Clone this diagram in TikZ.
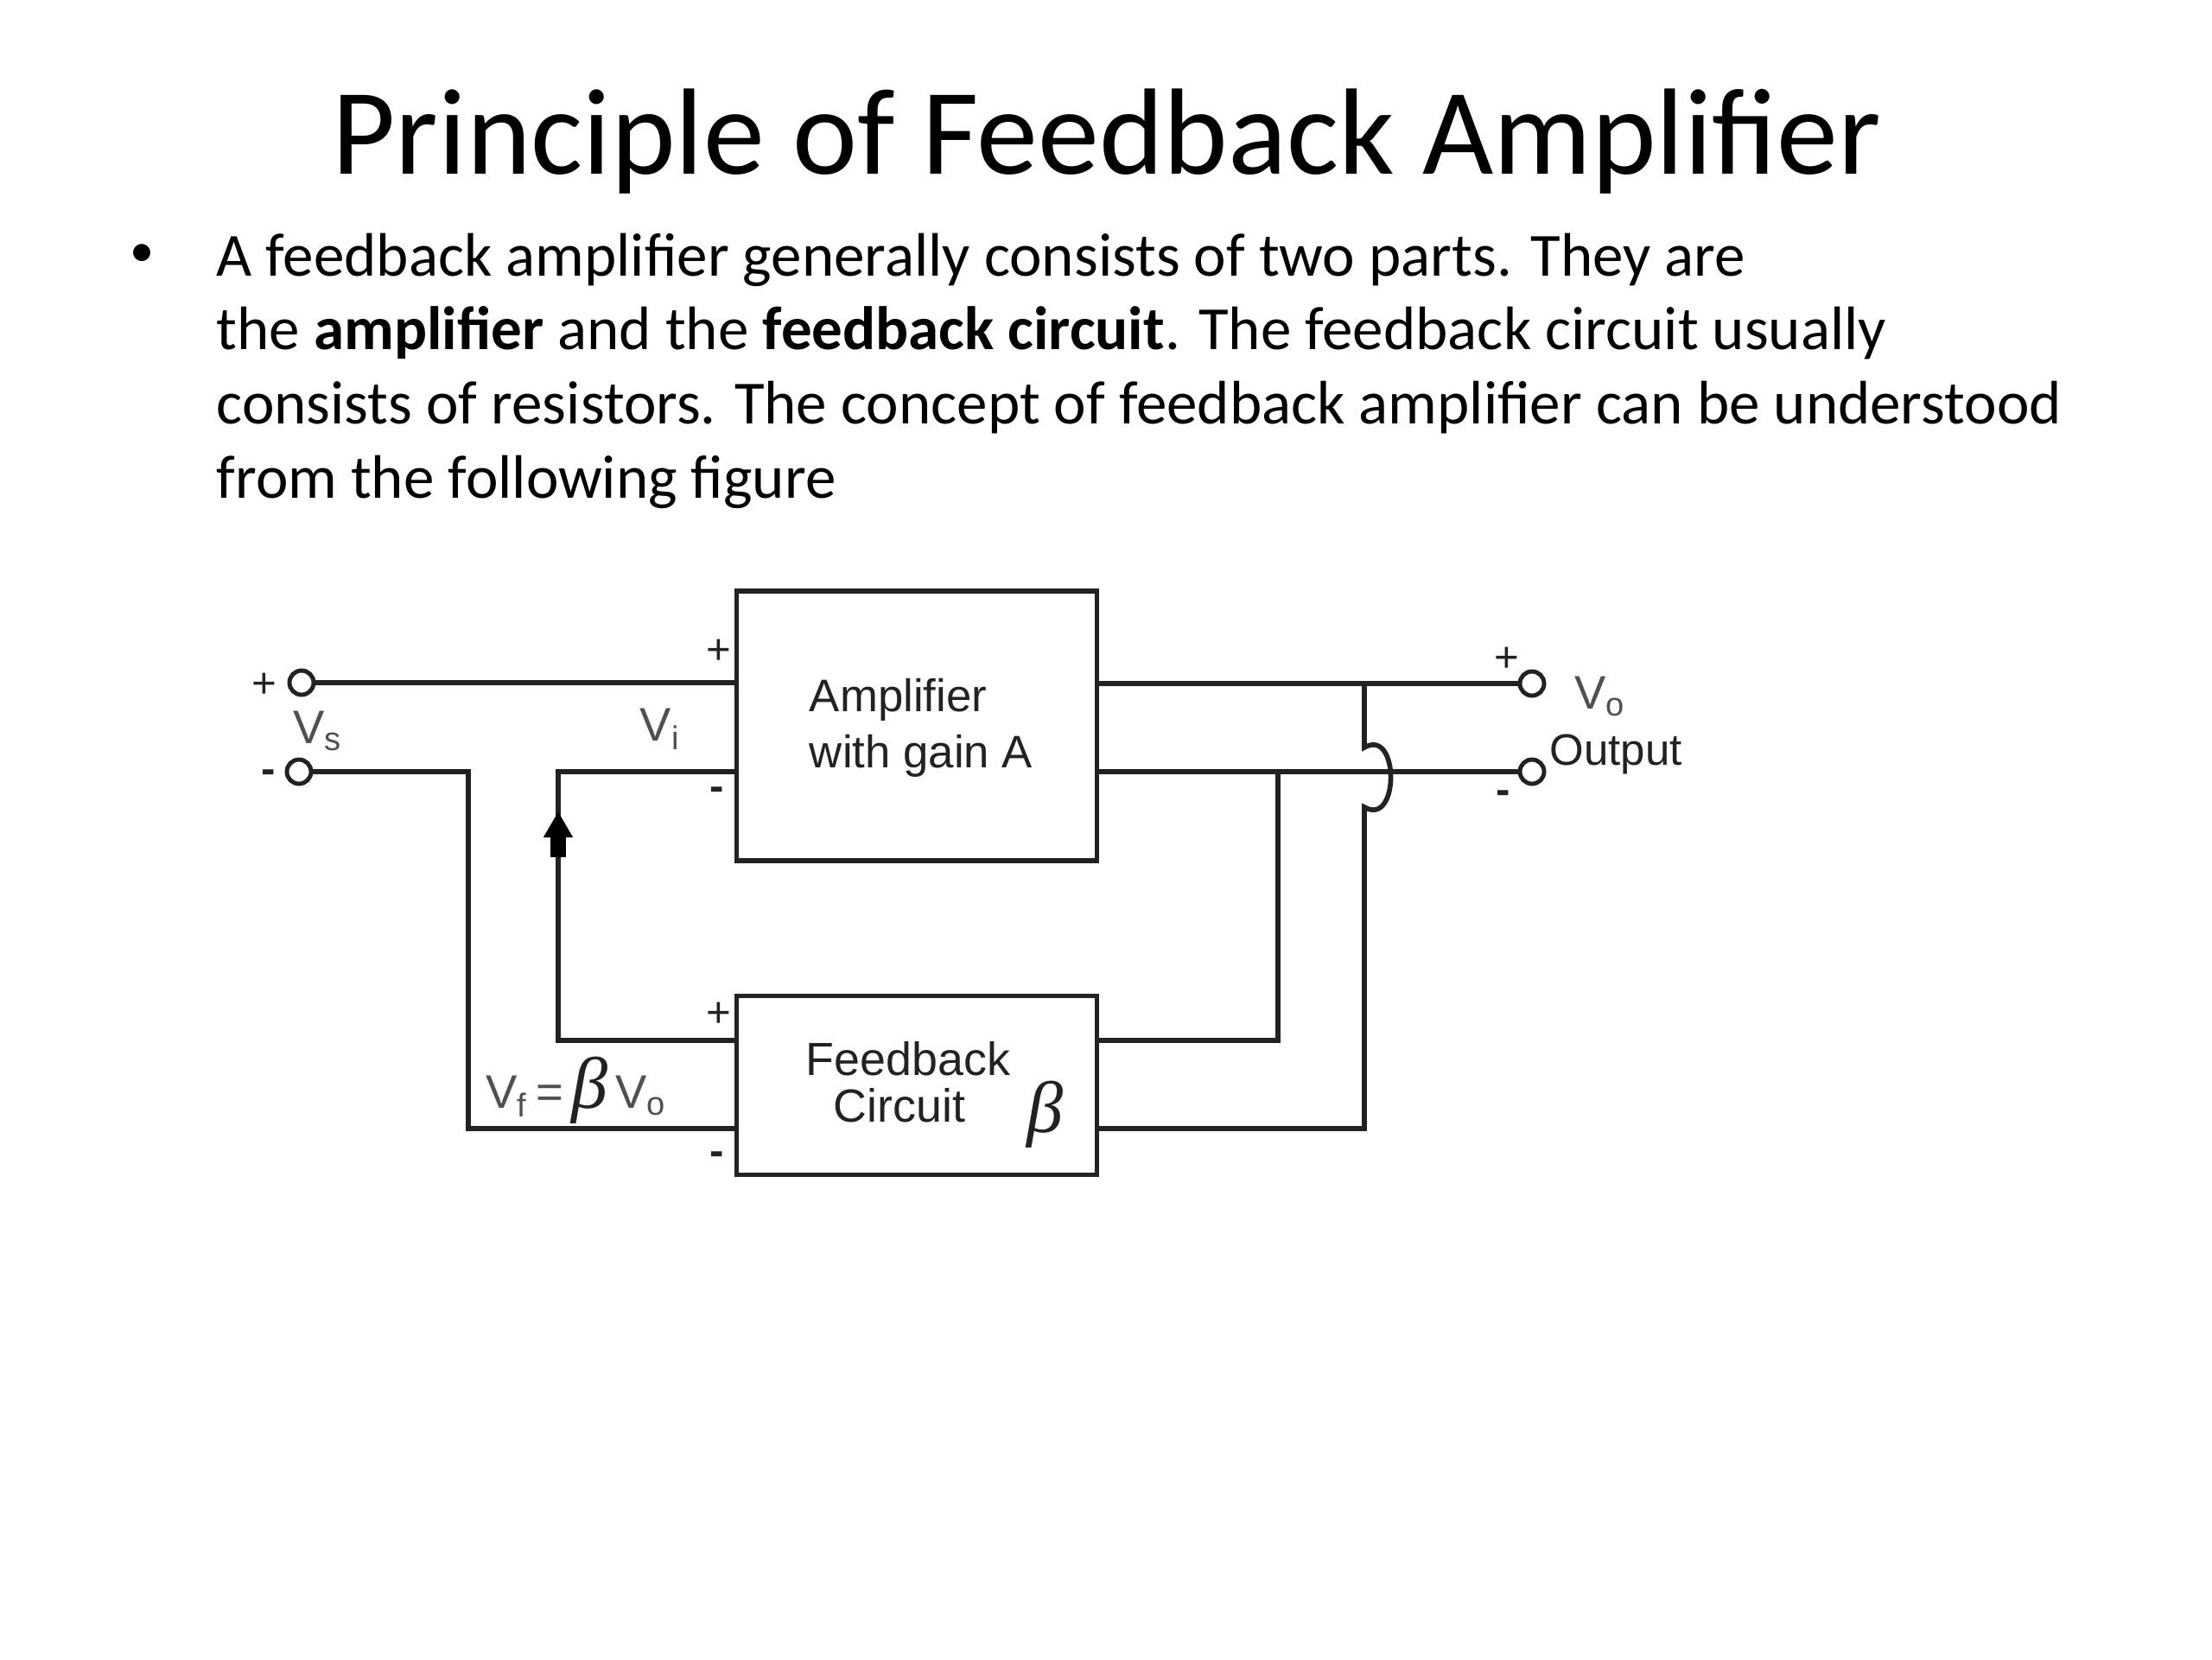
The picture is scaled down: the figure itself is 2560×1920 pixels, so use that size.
\documentclass[tikz,border=0pt]{standalone}
\usepackage{amsmath}
\usepackage{xcolor}
\usepackage{fontspec}
\setmainfont{Carlito}
\newfontfamily\figfont{Liberation Sans}
\newfontfamily\betafont{Liberation Serif}
\usepackage{tikz}
\usetikzlibrary{arrows.meta, positioning, calc}

\definecolor{wirecol}{HTML}{222222}
\definecolor{labelcol}{HTML}{505050}

\begin{document}
\begin{tikzpicture}[
  x=0.01cm, y=-0.01cm,
  block/.style={draw=wirecol, rectangle, line width=1.6pt, minimum width=4.17cm, align=left, inner sep=0pt, font=\figfont\fontsize{15}{18.5}\selectfont},
  terminal/.style={draw=wirecol, circle, line width=1.4pt, minimum size=0.28cm, inner sep=0pt},
  wire/.style={draw=wirecol, line width=1.6pt},
  sign/.style={inner sep=0pt, text=wirecol, font=\figfont\fontsize{14}{14}\selectfont},
  volt/.style={inner sep=0pt, text=labelcol, font=\figfont\fontsize{15.5}{15.5}\selectfont},
  arrow/.style={-{Triangle[length=3mm, width=3.2mm]}, draw=black, fill=black, line width=5pt}
]
\useasboundingbox (0,0) rectangle (2560,1920);

% slide text
\node[inner sep=0pt, font=\fontsize{40.4}{40.4}\selectfont] (title) at (1281,164) {Principle of Feedback Amplifier};
\node[anchor=north west, inner sep=0pt, align=left, font=\fontsize{20.2}{24.4}\selectfont] (body) at (250,269) {%
  A feedback amplifier generally consists of two parts. They are\\
  the \textbf{amplifier} and the \textbf{feedback circuit}. The feedback circuit usually\\
  consists of resistors. The concept of feedback amplifier can be understood\\
  from the following figure};
\node[inner sep=0pt, font=\fontsize{16}{16}\selectfont] (bullet) at (165,296) {\textbullet};

% blocks
\node[block, minimum height=3.12cm] (amp) at (1061,840) {};
\node[inner sep=0pt, align=left, font=\figfont\fontsize{15}{18.5}\selectfont, text=wirecol] (amptext) at (1066,842) {Amplifier\\with gain A};
\node[block, minimum height=2.07cm] (fb) at (1061,1256) {};
\node[align=center, inner sep=0pt, text=wirecol, font=\figfont\fontsize{15.3}{15.5}\selectfont] (fbtext) at (1051,1252) {Feedback\\Circuit\hspace*{0.2cm}};
\node[inner sep=0pt, text=wirecol, font=\betafont\itshape\fontsize{24}{24}\selectfont] (fbbeta) at (1210,1290) {β};

% terminals
\node[terminal] (vsp) at (349,790) {};
\node[terminal] (vsm) at (346,893) {};
\node[terminal] (vop) at (1773,791) {};
\node[terminal] (vom) at (1773,893) {};

% corners
\coordinate (fbin) at (852,1204);
\coordinate (fbgnd) at (852,1306);
\coordinate (fbouta) at (1270,1204);
\coordinate (fboutb) at (1270,1306);
\coordinate (hopin) at (1579,865);
\coordinate (hopout) at (1579,934);

% wires
\draw[wire] (vsp) -- (vsp -| amp.west);
\draw[wire] (vsm) -- (542,893) |- (fbgnd);
\draw[wire] (vom -| amp.west) -- (646,893) |- (fbin);
\draw[wire] (vop -| amp.east) -- (vop);
\draw[wire] (vom -| amp.east) -- (vom);
\draw[wire] (fbouta) -| (1479,893);
\draw[wire] (1579,791) -- (hopin) to[out=30, in=-30, looseness=1.75] (hopout) -- (1579,1306) -- (fboutb);
\draw[arrow] (646,992) -- (646,939);

% signs and voltages
\node[sign] (sp1) at (306,793) {+};
\node[sign] (sm1) at (311,899) {\textbf{-}};
\node[sign] (sp2) at (832,754) {+};
\node[sign] (sm2) at (830,919) {\textbf{-}};
\node[sign] (sp3) at (832,1174) {+};
\node[sign] (sm3) at (830,1341) {\textbf{-}};
\node[sign] (sp4) at (1744,763) {+};
\node[sign] (sm4) at (1740,923) {\textbf{-}};
\node[volt] (vs) at (368,846) {V\textsubscript{s}};
\node[volt] (vi) at (764,844) {V\textsubscript{i}};
\node[volt] (vo) at (1852,806) {V\textsubscript{o}};
\node[inner sep=0pt, text=wirecol, font=\figfont\fontsize{14.5}{14.5}\selectfont] (output) at (1870,873) {Output};
\node[volt] (vf) at (667,1262) {V\textsubscript{f}\,=\,{\betafont\itshape\color{wirecol}\fontsize{24}{24}\selectfont β}\,V\textsubscript{o}};
\end{tikzpicture}
\end{document}
